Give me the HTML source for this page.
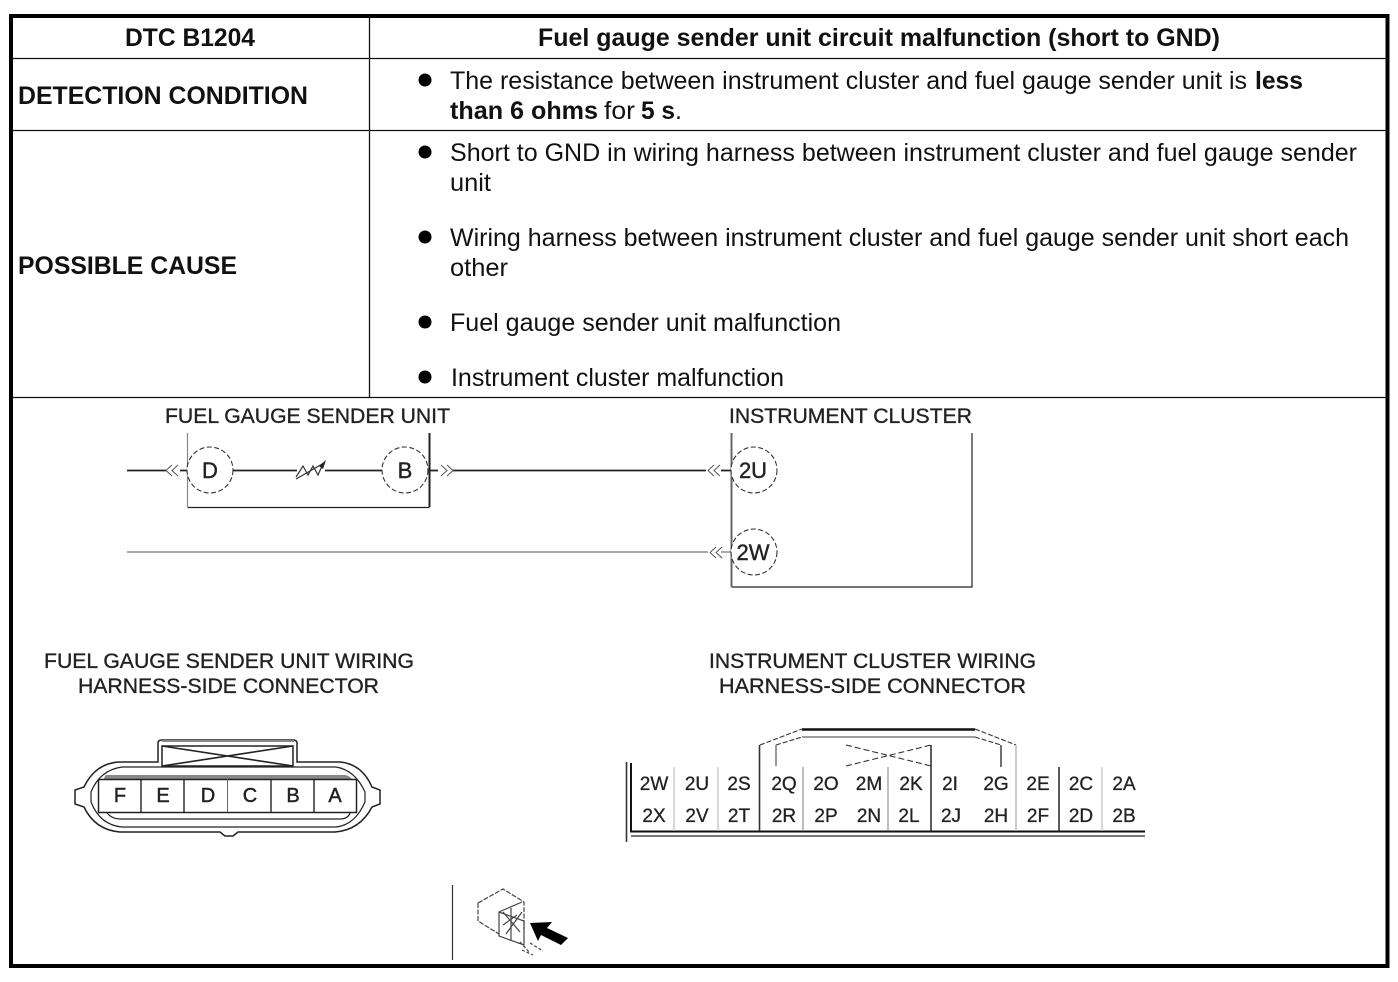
<!DOCTYPE html>
<html lang="en">
<head>
<meta charset="utf-8">
<title>DTC B1204</title>
<style>
html,body{margin:0;padding:0;background:#fff}
svg{display:block}
text{font-family:"Liberation Sans",Arial,sans-serif;fill:#111}
.b{font-weight:bold}
.t{font-size:25px}
.lb{font-size:21px;fill:#222;stroke:#222;stroke-width:.35}
.pin{font-size:19px;text-anchor:middle;fill:#222;stroke:#222;stroke-width:.3}
.big{font-size:22px;text-anchor:middle;fill:#222;stroke:#222;stroke-width:.4}
.key{font-size:20px;text-anchor:middle;fill:#222;stroke:#222;stroke-width:.45}
</style>
</head>
<body>
<svg width="1398" height="982" viewBox="0 0 1398 982" xmlns="http://www.w3.org/2000/svg">
<rect width="1398" height="982" fill="#fff"/>
<!-- Table frame -->
<rect x="11" y="16" width="1376.500" height="950" fill="none" stroke="#000" stroke-width="4"/>
<g stroke="#111" stroke-width="1.3" fill="none">
<path d="M12 58.500H1386M12 130.500H1386M12 397.500H1386M369.500 17V397"/>
</g>
<!-- Table text -->
<text class="t b" x="125" y="46" textLength="130" lengthAdjust="spacingAndGlyphs">DTC B1204</text>
<text class="t b" x="538" y="46" textLength="682" lengthAdjust="spacingAndGlyphs">Fuel gauge sender unit circuit malfunction (short to GND)</text>
<text class="t b" x="18" y="104" textLength="290" lengthAdjust="spacingAndGlyphs">DETECTION CONDITION</text>
<text class="t b" x="18" y="274" textLength="219" lengthAdjust="spacingAndGlyphs">POSSIBLE CAUSE</text>
<g fill="#000">
<circle cx="425" cy="80" r="6.500"/>
<circle cx="425" cy="152" r="6.500"/>
<circle cx="425" cy="237" r="6.500"/>
<circle cx="425" cy="322" r="6.500"/>
<circle cx="425" cy="377" r="6.500"/>
</g>
<text class="t" x="450" y="89" textLength="797" lengthAdjust="spacingAndGlyphs">The resistance between instrument cluster and fuel gauge sender unit is</text>
<text class="t b" x="1255" y="89" textLength="48" lengthAdjust="spacingAndGlyphs">less</text>
<text class="t b" x="450" y="119" textLength="148" lengthAdjust="spacingAndGlyphs">than 6 ohms</text>
<text class="t" x="604" y="119" textLength="31" lengthAdjust="spacingAndGlyphs">for</text>
<text class="t b" x="641" y="119" textLength="34" lengthAdjust="spacingAndGlyphs">5 s</text>
<text class="t" x="675" y="119">.</text>
<text class="t" x="450" y="161" textLength="907" lengthAdjust="spacingAndGlyphs">Short to GND in wiring harness between instrument cluster and fuel gauge sender</text>
<text class="t" x="450" y="191" textLength="41" lengthAdjust="spacingAndGlyphs">unit</text>
<text class="t" x="450" y="246" textLength="899" lengthAdjust="spacingAndGlyphs">Wiring harness between instrument cluster and fuel gauge sender unit short each</text>
<text class="t" x="450" y="276" textLength="58" lengthAdjust="spacingAndGlyphs">other</text>
<text class="t" x="450" y="331" textLength="391" lengthAdjust="spacingAndGlyphs">Fuel gauge sender unit malfunction</text>
<text class="t" x="451" y="386" textLength="333" lengthAdjust="spacingAndGlyphs">Instrument cluster malfunction</text>

<!-- Circuit labels -->
<text class="lb" x="165" y="423" textLength="285" lengthAdjust="spacingAndGlyphs">FUEL GAUGE SENDER UNIT</text>
<text class="lb" x="729" y="423" textLength="243" lengthAdjust="spacingAndGlyphs">INSTRUMENT CLUSTER</text>
<!-- Circuit boxes -->
<path d="M187.500 507.500H429.500" fill="none" stroke="#222" stroke-width="1.300"/>
<path d="M429.500 433V507" fill="none" stroke="#222" stroke-width="2"/>
<path d="M187.500 433V507" fill="none" stroke="#888" stroke-width="1.200"/>
<path d="M731.500 587H972V433" fill="none" stroke="#222" stroke-width="1.200"/>
<path d="M731.500 433V587" fill="none" stroke="#666" stroke-width="2"/>
<!-- Wires -->
<g fill="none" stroke="#222" stroke-width="1.700">
<path d="M127 470.500H166M180 470.500H187M233 470.500H297M325 470.500H383M429 470.500H438M453 470.500H706M721 470.500H731"/>
</g>
<path d="M127 552H708M721 552H731" fill="none" stroke="#777" stroke-width="1.200"/>
<!-- Chevrons -->
<g fill="none" stroke="#555" stroke-width="1">
<path d="M172 465L166 470.500L172 476M178 465L172 470.500L178 476"/>
<path d="M441 465L447 470.500L441 476M447 465L453 470.500L447 476"/>
<path d="M714 465L708 470.500L714 476M720 465L714 470.500L720 476"/>
<path d="M716 547L710 552.500L716 558M722 547L716 552.500L722 558"/>
</g>
<!-- Resistor -->
<path d="M296 477L303 466L308 475L313 466L318 475L322 466" fill="none" stroke="#333" stroke-width="1.200"/>
<path d="M296 479L324 463" fill="none" stroke="#333" stroke-width="1.200"/>
<path d="M319 466L326 460L323 469Z" fill="#222"/>
<!-- Terminal circles -->
<g fill="#fff" stroke="#333" stroke-width="1.100" stroke-dasharray="5 2.500">
<circle cx="210" cy="470" r="23"/>
<circle cx="405" cy="470" r="23"/>
<circle cx="754" cy="470" r="23"/>
<circle cx="754" cy="552" r="23"/>
</g>
<text class="big" x="210" y="478">D</text>
<text class="big" x="405" y="478">B</text>
<text class="big" x="753" y="478">2U</text>
<text class="big" x="753" y="560">2W</text>

<!-- Connector titles -->
<text class="lb" x="44" y="668" textLength="370" lengthAdjust="spacingAndGlyphs">FUEL GAUGE SENDER UNIT WIRING</text>
<text class="lb" x="78" y="693" textLength="301" lengthAdjust="spacingAndGlyphs">HARNESS-SIDE CONNECTOR</text>
<text class="lb" x="709" y="668" textLength="327" lengthAdjust="spacingAndGlyphs">INSTRUMENT CLUSTER WIRING</text>
<text class="lb" x="719" y="693" textLength="307" lengthAdjust="spacingAndGlyphs">HARNESS-SIDE  CONNECTOR</text>

<!-- Left connector -->
<g fill="none" stroke="#222" stroke-width="1.500">
<path d="M158 762V743Q158 740 162 740H293Q297 740 297 743V762H340Q362 764 372 787L380 790V804L372 807Q360 830 335 832H238L233 836H225L220 832H120Q95 830 84 807L75 804V790L84 787Q95 764 118 762Z"/>
<path d="M122 767H336Q355 770 365 792V802Q355 825 336 827H122Q100 825 91 802V792Q100 770 122 767Z" stroke-width="1.200"/>
<path d="M162 746H293V766H162Z"/>
<path d="M162 746L293 766M293 746L162 766" stroke-width="1.600"/>
</g>
<path d="M162 741H294" stroke="#888" stroke-width="2" fill="none"/>
<path d="M106 775H345Q350 776 352 779H104Q104 777 106 775Z" fill="#888"/>
<rect x="98.500" y="779.500" width="258" height="33" fill="#fff" stroke="#222" stroke-width="1.500"/>
<path d="M141 779V812M184 779V812M271 779V812M314 779V812" stroke="#222" stroke-width="1.400" fill="none"/>
<path d="M227.500 779V812" stroke="#666" stroke-width="1" fill="none"/>
<path d="M107 813Q112 819 120 819H340Q348 819 350 813" fill="none" stroke="#222" stroke-width="1.200"/>
<text class="key" x="120" y="802">F</text>
<text class="key" x="163" y="802">E</text>
<text class="key" x="208" y="802">D</text>
<text class="key" x="250" y="802">C</text>
<text class="key" x="293" y="802">B</text>
<text class="key" x="335" y="802">A</text>

<!-- Right connector -->
<g fill="none">
<path d="M626.500 762V842" stroke="#333" stroke-width="1.600"/>
<path d="M631 763V831.500H1145" stroke="#111" stroke-width="2"/>
<path d="M631 836H1145" stroke="#777" stroke-width="2"/>
<path d="M802 729.500H975" stroke="#111" stroke-width="2.400"/>
<path d="M802 737H975" stroke="#666" stroke-width="1.200"/>
<path d="M760 745L802 729M776 745L802 737M975 729L1016 745M975 737L1001 745" stroke="#333" stroke-width="1.100" stroke-dasharray="5 2"/>
<path d="M846 745L931 766M846 766L931 745" stroke="#333" stroke-width="1.100" stroke-dasharray="6 3"/>
<path d="M759.500 745V831" stroke="#333" stroke-width="1.600"/>
<path d="M776 745V766" stroke="#777" stroke-width="1.500"/>
<path d="M1001 745V767" stroke="#333" stroke-width="1.400"/>
<path d="M1016 745V831" stroke="#bbb" stroke-width="1.500"/>
<path d="M931 745V831" stroke="#333" stroke-width="1.600"/>
<path d="M674 767V831M718 767V831" stroke="#bbb" stroke-width="1.100"/>
<path d="M803 767V831M888 767V831" stroke="#888" stroke-width="1.100"/>
<path d="M1059 767V831" stroke="#222" stroke-width="1.500"/>
<path d="M1102 767V831" stroke="#bbb" stroke-width="1.100"/>
</g>
<text class="pin" x="654" y="790">2W</text>
<text class="pin" x="697" y="790">2U</text>
<text class="pin" x="739" y="790">2S</text>
<text class="pin" x="784" y="790">2Q</text>
<text class="pin" x="826" y="790">2O</text>
<text class="pin" x="869" y="790">2M</text>
<text class="pin" x="911" y="790">2K</text>
<text class="pin" x="950" y="790">2I</text>
<text class="pin" x="996" y="790">2G</text>
<text class="pin" x="1038" y="790">2E</text>
<text class="pin" x="1081" y="790">2C</text>
<text class="pin" x="1124" y="790">2A</text>
<text class="pin" x="654" y="822">2X</text>
<text class="pin" x="697" y="822">2V</text>
<text class="pin" x="739" y="822">2T</text>
<text class="pin" x="784" y="822">2R</text>
<text class="pin" x="826" y="822">2P</text>
<text class="pin" x="869" y="822">2N</text>
<text class="pin" x="909" y="822">2L</text>
<text class="pin" x="951" y="822">2J</text>
<text class="pin" x="996" y="822">2H</text>
<text class="pin" x="1038" y="822">2F</text>
<text class="pin" x="1081" y="822">2D</text>
<text class="pin" x="1124" y="822">2B</text>

<!-- Locator icon -->
<path d="M452.500 885V960" stroke="#333" stroke-width="1.200" fill="none"/>
<g fill="none" stroke="#444" stroke-width="1.200">
<path d="M478 903L503 889L524 902V930" stroke-dasharray="5 1.500"/>
<path d="M478 903V921L499 934" stroke-dasharray="5 1.500"/>
<path d="M499 912L522 902M499 912V936L524 945V921Z"/>
<path d="M503 912L520 932M503 925L517 915M506 934L522 912M511 908V940"/>
<path d="M520 942L530 953M530 943L543 951M522 950L533 955" stroke-dasharray="3 2"/>
</g>
<path d="M530 923L552 922L547 928L568 938L561 945L541 935L538 941Z" fill="#000"/>
</svg>
</body>
</html>
